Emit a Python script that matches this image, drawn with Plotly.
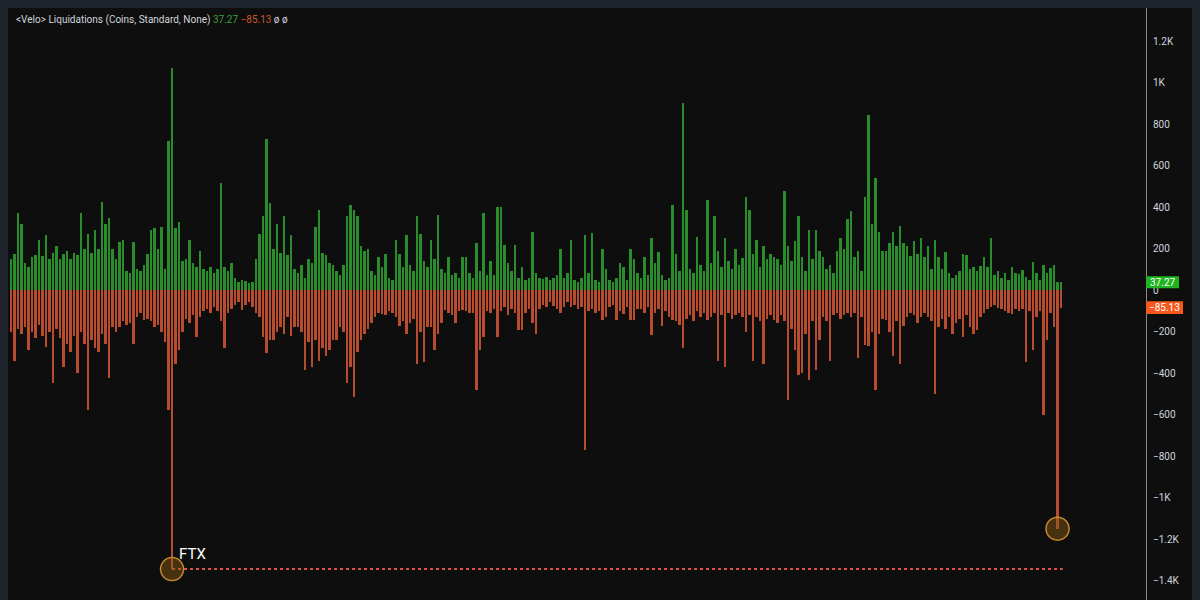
import plotly.graph_objects as go

# ---------------- data ----------------
long_liq = [
    150, 175, 370, 320, 130, 110, 160, 170, 240, 165,
    265, 150, 180, 210, 150, 175, 190, 150, 180, 170,
    370, 200, 270, 180, 290, 200, 425, 320, 345, 200,
    150, 230, 240, 90, 80, 230, 100, 90, 120, 175,
    290, 300, 200, 305, 100, 720, 1070, 300, 330, 140,
    150, 240, 130, 110, 190, 100, 90, 110, 80, 100,
    515, 110, 90, 130, 60, 40, 50, 45, 35, 40,
    150, 270, 355, 730, 420, 200, 320, 180, 355, 170,
    265, 100, 80, 120, 60, 150, 130, 305, 385, 180,
    170, 130, 120, 90, 70, 120, 355, 410, 385, 355,
    210, 190, 200, 90, 70, 160, 110, 175, 60, 50,
    240, 175, 110, 265, 120, 90, 355, 270, 140, 110,
    240, 150, 360, 100, 80, 160, 70, 80, 60, 160,
    160, 80, 60, 225, 90, 370, 70, 140, 70, 400,
    400, 215, 130, 90, 215, 60, 110, 50, 60, 280,
    80, 60, 55, 65, 50, 60, 70, 200, 60, 80,
    240, 50, 40, 60, 265, 80, 275, 50, 40, 200,
    100, 50, 40, 60, 130, 110, 50, 200, 150, 80,
    60, 160, 70, 250, 130, 185, 70, 50, 60, 410,
    175, 90, 900, 385, 100, 80, 255, 120, 90, 435,
    130, 355, 190, 110, 250, 140, 100, 200, 120, 155,
    450, 385, 175, 240, 110, 210, 150, 175, 160, 150,
    120, 475, 210, 140, 235, 355, 160, 90, 290, 150,
    290, 190, 160, 100, 120, 80, 190, 250, 200, 340,
    380, 160, 190, 90, 450, 845, 320, 540, 280, 190,
    190, 225, 280, 210, 310, 225, 210, 165, 235, 175,
    250, 160, 210, 100, 240, 160, 100, 185, 80, 60,
    70, 90, 175, 170, 100, 110, 90, 115, 160, 110,
    250, 70, 90, 60, 80, 50, 110, 80, 75, 95,
    65, 50, 135, 80, 50, 120, 80, 105, 120, 40,
    37.27,
]

short_liq = [
    200, 340, 190, 210, 180, 290, 200, 230, 170, 220,
    275, 200, 450, 190, 230, 370, 260, 300, 220, 400,
    200, 260, 580, 240, 280, 300, 210, 260, 425, 180,
    200, 180, 150, 170, 160, 260, 130, 110, 145, 140,
    150, 180, 170, 200, 250, 580, 1345, 355, 290, 200,
    140, 160, 120, 225, 130, 100, 90, 110, 80, 100,
    150, 280, 110, 90, 70, 60, 95, 70, 60, 80,
    110, 130, 225, 305, 240, 240, 200, 180, 210, 130,
    220, 180, 180, 200, 385, 250, 370, 240, 340, 280,
    320, 290, 240, 240, 180, 200, 450, 370, 515, 300,
    240, 210, 190, 160, 130, 110, 115, 120, 100, 110,
    130, 175, 150, 210, 160, 140, 355, 200, 345, 180,
    180, 290, 210, 160, 95, 110, 120, 160, 100, 95,
    100, 110, 110, 480, 290, 225, 100, 110, 90, 225,
    100, 80, 120, 90, 110, 195, 195, 110, 90, 160,
    210, 90, 70, 80, 60, 75, 90, 110, 80, 60,
    80, 70, 90, 80, 770, 100, 90, 110, 100, 145,
    130, 80, 70, 145, 100, 115, 80, 145, 145, 90,
    90, 110, 80, 215, 110, 90, 175, 100, 130, 145,
    150, 170, 280, 140, 120, 150, 100, 130, 110, 145,
    130, 110, 340, 120, 370, 110, 140, 120, 110, 130,
    200, 120, 340, 130, 150, 355, 140, 120, 145, 160,
    120, 150, 530, 190, 290, 410, 400, 210, 435, 150,
    385, 240, 130, 150, 340, 120, 110, 140, 120, 110,
    130, 110, 330, 130, 265, 270, 200, 480, 210, 140,
    145, 200, 320, 150, 355, 175, 130, 110, 120, 160,
    130, 110, 130, 150, 500, 180, 140, 190, 130, 210,
    160, 140, 225, 120, 180, 210, 195, 130, 110, 90,
    80, 70, 85, 90, 100, 110, 115, 90, 100, 90,
    345, 100, 290, 130, 100, 600, 240, 110, 180, 1150,
    85.13,
]

ftx_label = "FTX"
header_title = "<Velo> Liquidations (Coins, Standard, None)"
tick_vals = [1200, 1000, 800, 600, 400, 200, 0, -200, -400, -600, -800, -1000, -1200, -1400]
tick_text = ["1.2K", "1K", "800", "600", "400", "200", "0", "\u2212200", "\u2212400",
             "\u2212600", "\u2212800", "\u22121K", "\u22121.2K", "\u22121.4K"]

# ---------------- derived ----------------
n = len(long_liq)
xs = list(range(n))
neg_vals = [-v for v in short_liq]
last_pos = long_liq[-1]
last_neg = neg_vals[-1]
ftx_i = max(range(n), key=lambda i: short_liq[i])
ftx_val = neg_vals[ftx_i]
sec_i = max((i for i in range(n) if abs(i - ftx_i) > 20), key=lambda i: short_liq[i])
sec_val = neg_vals[sec_i]

GREEN = "#2a8d2c"
RED = "#b84c2e"
BG = "#0e0e0e"
FRAME = "#20242c"
TXT = "#d1d4dc"

fig = go.Figure()
fig.add_trace(go.Bar(x=xs, y=long_liq, marker=dict(color=GREEN, line=dict(width=0)),
                     width=0.8, hoverinfo="skip"))
fig.add_trace(go.Bar(x=xs, y=neg_vals, marker=dict(color=RED, line=dict(width=0)),
                     width=0.8, hoverinfo="skip"))

# dotted level line from FTX low
fig.add_trace(go.Scatter(x=[ftx_i, n - 0.5], y=[ftx_val, ftx_val], mode="lines",
                         line=dict(color="#e0524a", width=2, dash="dot"), hoverinfo="skip"))
# circles
fig.add_trace(go.Scatter(x=[ftx_i, sec_i], y=[ftx_val, sec_val], mode="markers",
                         marker=dict(size=23, color="rgba(140,95,20,0.45)",
                                     line=dict(color="#c7882e", width=1.5)),
                         hoverinfo="skip"))

# the page has an 8px body margin, so the figure is laid out in page pixels minus 8
OFF = 8
W, H = 1200 - OFF, 600 - OFF
PL, PR, PT, PB = 10, 1146, 8, 600  # plot area in page pixels
ML, MR, MT, MB = PL - OFF, (W + OFF) - PR, PT - OFF, (H + OFF) - PB
pw = PR - PL
ph = PB - PT
x0 = -0.3
x1 = x0 + pw / 3.5
ZERO_PAGE_Y = 290
ymax = (ZERO_PAGE_Y - PT) / 0.2075
ymin = -(PB - ZERO_PAGE_Y) / 0.2075

def px_to_paper_x(p):
    return (p - PL) / pw

def px_to_paper_y(p):
    return 1 - (p - PT) / ph

shapes = [
    # right frame strip
    dict(type="rect", xref="paper", yref="paper", x0=px_to_paper_x(1192), x1=px_to_paper_x(1201),
         y0=px_to_paper_y(601), y1=px_to_paper_y(0), fillcolor=FRAME, line=dict(width=0), layer="above"),
    # price-axis value boxes
    dict(type="rect", xref="paper", yref="y", x0=px_to_paper_x(1146), x1=px_to_paper_x(1179),
         y0=last_pos - 29, y1=last_pos + 29, fillcolor="#1fb51f", line=dict(width=0), layer="above"),
    dict(type="rect", xref="paper", yref="y", x0=px_to_paper_x(1146), x1=px_to_paper_x(1183),
         y0=last_neg - 31, y1=last_neg + 31, fillcolor="#f7581c", line=dict(width=0), layer="above"),
]

annotations = [
    dict(xref="paper", yref="paper", x=px_to_paper_x(14), y=px_to_paper_y(20),
         xanchor="left", yanchor="middle", showarrow=False,
         text=(header_title.replace("<", "&lt;").replace(">", "&gt;")
               + f" <span style='color:#3a9e3a'>{last_pos:.2f}</span>"
               + f" <span style='color:#d0582c'>\u2212{abs(last_neg):.2f}</span>"
               + " \u00f8 \u00f8"),
         font=dict(family="Roboto", size=10, color=TXT)),
    dict(xref="paper", yref="y", x=px_to_paper_x(1162.5), y=last_pos, xanchor="center",
         yanchor="middle", showarrow=False, text=f"{last_pos:.2f}",
         font=dict(family="Roboto", size=10, color="#ffffff")),
    dict(xref="paper", yref="y", x=px_to_paper_x(1164.5), y=last_neg, xanchor="center",
         yanchor="middle", showarrow=False, text=f"\u2212{abs(last_neg):.2f}",
         font=dict(family="Roboto", size=10, color="#ffffff")),
    dict(xref="x", yref="y", x=ftx_i, y=ftx_val, xanchor="left", yanchor="bottom",
         xshift=5, yshift=4, showarrow=False, text=ftx_label,
         font=dict(family="Roboto", size=15, color="#ffffff")),
]

fig.update_layout(
    width=W, height=H,
    margin=dict(l=ML, r=MR, t=MT, b=MB, pad=0),
    paper_bgcolor=BG, plot_bgcolor=BG,
    barmode="overlay", bargap=0,
    showlegend=False,
    shapes=shapes,
    annotations=annotations,
    xaxis=dict(range=[x0, x1], visible=False, fixedrange=True),
    yaxis=dict(range=[ymin, ymax], side="right", tickmode="array", tickvals=tick_vals,
               ticktext=tick_text, showgrid=False, zeroline=False,
               showline=True, linecolor="#8a8a8a", linewidth=1,
               ticks="outside", ticklen=4, tickcolor=BG,
               tickfont=dict(family="Roboto", size=10, color=TXT), fixedrange=True),
)

fig.write_html("out.html",
               post_script="document.body.style.backgroundColor='%s';" % FRAME)
